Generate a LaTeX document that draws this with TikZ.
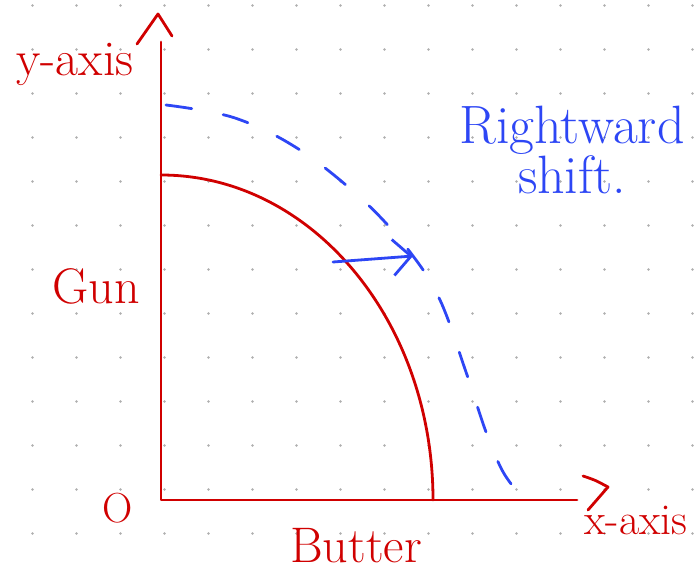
\documentclass[tikz,border=0pt]{standalone}
\usepackage{tikz}
\usetikzlibrary{arrows.meta}
\definecolor{penred}{RGB}{208,0,0}
\definecolor{penblue}{RGB}{45,70,245}
\definecolor{dotgray}{RGB}{175,175,175}

\begin{document}
\begin{tikzpicture}[x=1pt,y=-1pt,
	redpen/.style={penred, line width=2.8pt, line cap=round, line join=round},
	bluepen/.style={penblue, line width=2.8pt, line cap=round, line join=round},
	redlabel/.style={penred, inner sep=0pt, font=\fontsize{#1}{#1}\selectfont},
	bluelabel/.style={penblue, inner sep=0pt, align=center, font=\fontsize{54}{48}\selectfont}]
	\useasboundingbox (0,0) rectangle (695,575);
	% dotted paper
	\foreach \i in {0,...,15} {\foreach \j in {0,...,13} {\fill[dotgray] ({32.5+44*\i},{5.5+44*\j}) circle (1.4pt);}}
	% axes
	\coordinate (origin) at (161,500);
	\coordinate (ytop) at (161,42);
	\coordinate (xend) at (577,500);
	\draw[redpen] (ytop) -- (origin) -- (xend);
	\draw[redpen] (137,44) -- (158,14) -- (172,36);
	\draw[redpen] (583,476) .. controls (595,480) .. (608,487) -- (588,510);
	% old and new frontier
	\draw[redpen] (161,175) arc[start angle=90, end angle=0, x radius=272pt, y radius=325pt];
	\draw[bluepen, dash pattern=on 26pt off 32pt] plot[smooth, tension=0.6] coordinates {(166,105) (235,118) (300,150) (365,202) (410,252) (440,300) (466,372) (486,432) (502,470) (516,490)};
	\coordinate (shiftfrom) at (333,262);
	\coordinate (shiftto) at (413,256);
	\draw[bluepen, -{Straight Barb[length=18pt, width=36pt, line width=2.8pt]}] (shiftfrom) -- (shiftto);
	% labels
	\node[redlabel=50] (ylab) at (75,64) {y-axis};
	\node[redlabel=50] (gunlab) at (96,286) {Gun};
	\node[redlabel=42] (olab) at (118,508) {O};
	\node[redlabel=50] (butterlab) at (356,546) {Butter};
	\node[redlabel=44] (xlab) at (636,520) {x-axis};
	\node[bluelabel] (shiftlab) at (572,150) {Rightward\\shift.};
\end{tikzpicture}
\end{document}
